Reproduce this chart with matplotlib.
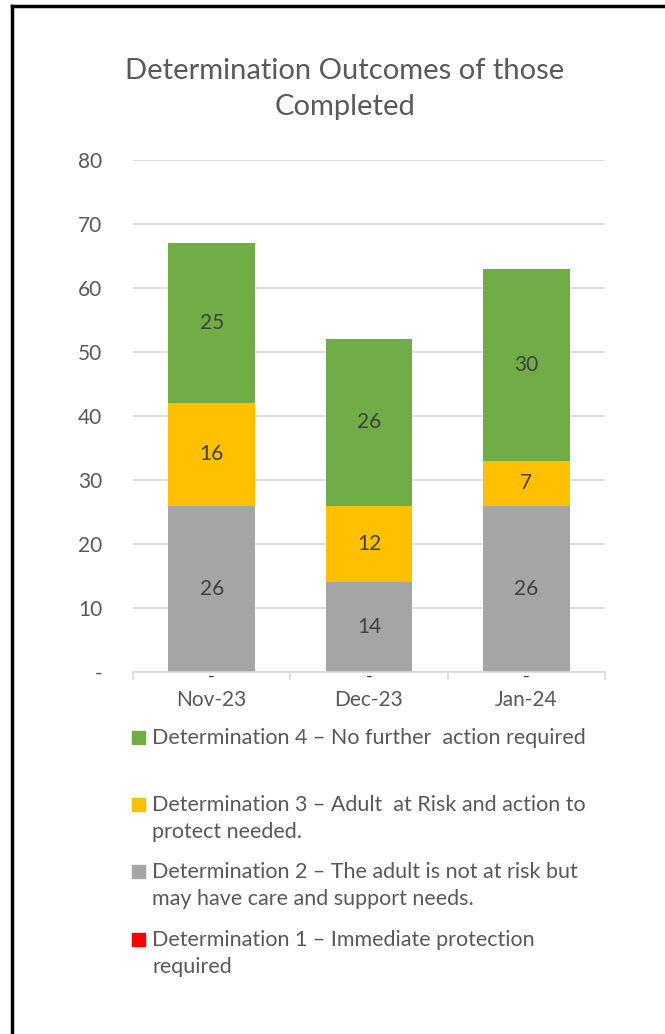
import numpy as np
import matplotlib.pyplot as plt
from matplotlib.patches import Rectangle
from matplotlib.lines import Line2D

months = ['Nov-23', 'Dec-23', 'Jan-24']
det1 = [0, 0, 0]
det2 = [26, 14, 26]
det3 = [16, 12, 7]
det4 = [25, 26, 30]
yticks = [0, 10, 20, 30, 40, 50, 60, 70, 80]
ytick_labels = ['-', '10', '20', '30', '40', '50', '60', '70', '80']

series = [
    (det1, '#FF0000', 'Determination 1 \u2013 Immediate protection\nrequired'),
    (det2, '#A5A5A5', 'Determination 2 \u2013 The adult is not at risk but\nmay have care and support needs.'),
    (det3, '#FFC000', 'Determination 3 \u2013 Adult  at Risk and action to\nprotect needed.'),
    (det4, '#70AD47', 'Determination 4 \u2013 No further  action required'),
]

plt.rcParams['font.family'] = ['Lato', 'DejaVu Sans']
txt = '#595959'
W, H = 665, 1034
fig = plt.figure(figsize=(W / 100, H / 100), dpi=100)
ax = fig.add_axes([133 / W, 1 - 672 / H, 472 / W, 512 / H])

x = np.arange(len(months))
bottom = np.zeros(len(months))
for vals, col, lab in series:
    vals = np.array(vals, dtype=float)
    ax.bar(x, vals, 0.55, bottom=bottom, color=col, zorder=2)
    for xi, b, v in zip(x, bottom, vals):
        if v > 0:
            ax.text(xi, b + v / 2, '%d' % v, ha='center', va='center',
                    fontsize=15, color='#404040', zorder=3)
        else:
            # zero values shown as a dash, like the Excel number format
            ax.annotate('-', (xi, b), xytext=(0, -7), textcoords='offset points',
                        ha='center', va='baseline', fontsize=13,
                        color='#404040', zorder=3, annotation_clip=False)
    bottom += vals

ax.set_xlim(-0.5, 2.5)
ax.set_ylim(0, 80)
ax.set_yticks(yticks)
ax.set_yticklabels(ytick_labels)
ax.set_xticks(x)
ax.set_xticklabels(months)
ax.set_xticks([-0.5, 0.5, 1.5, 2.5], minor=True)
ax.tick_params(axis='y', length=0, pad=22, labelsize=15, labelcolor=txt)
ax.tick_params(axis='x', which='major', length=0, pad=13, labelsize=15, labelcolor=txt)
ax.tick_params(axis='x', which='minor', length=6, color='#d9d9d9', width=1.2)
for sp in ['top', 'right', 'left']:
    ax.spines[sp].set_visible(False)
ax.spines['bottom'].set_color('#d9d9d9')
ax.spines['bottom'].set_linewidth(1.2)
ax.yaxis.grid(True, color='#d9d9d9', linewidth=1.2, zorder=0)
ax.set_axisbelow(True)

fig.text(345 / W, 1 - 89 / H, 'Determination Outcomes of those\nCompleted',
         ha='center', va='center', fontsize=21, color=txt, linespacing=1.45)

# legend drawn by hand to mimic the Excel layout
leg_y = [939, 871, 804, 737]
for (vals, col, lab), yy in zip(series, leg_y):
    fig.patches.append(Rectangle((132 / W, 1 - (yy + 7) / H), 13 / W, 13 / H,
                                 transform=fig.transFigure, color=col))
    fig.text(152 / W, 1 - (yy - 9) / H, lab, ha='left', va='top',
             fontsize=15.5, color=txt, linespacing=1.45)

# black frame on left and top
fig.lines.append(Line2D([12 / W, 12 / W], [0, 1 - 6 / H], transform=fig.transFigure,
                        color='black', linewidth=2.5))
fig.lines.append(Line2D([12 / W, 665 / W], [1 - 6 / H, 1 - 6 / H], transform=fig.transFigure,
                        color='black', linewidth=2.5))

fig.savefig('out.png', dpi=100)
